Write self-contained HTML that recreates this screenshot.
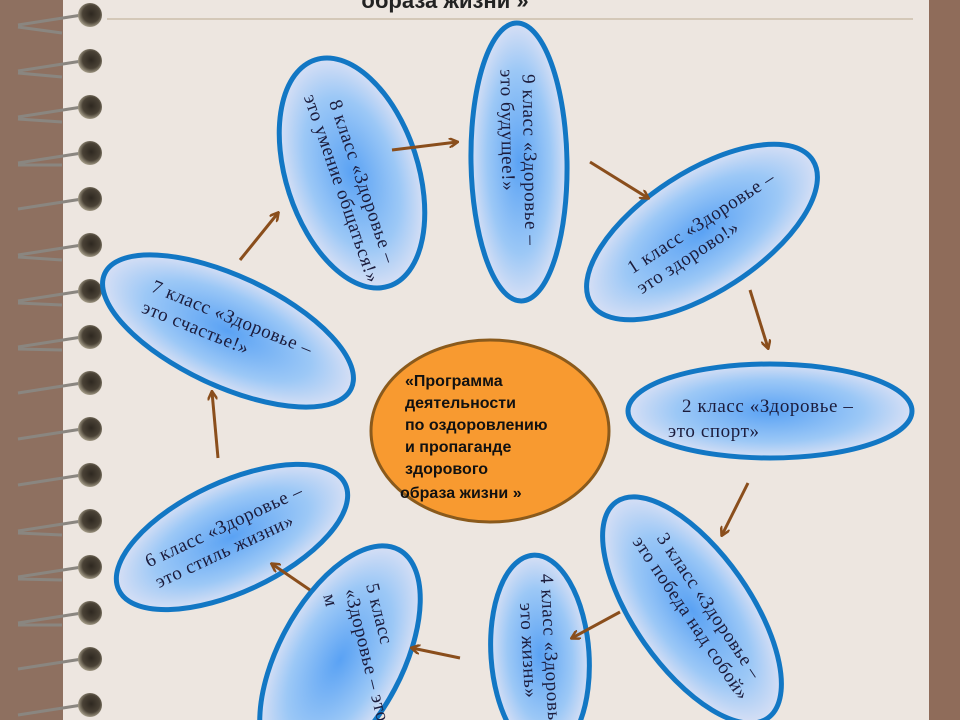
<!DOCTYPE html>
<html><head><meta charset="utf-8"><style>
html,body{margin:0;padding:0;width:960px;height:720px;overflow:hidden;background:#ede6e0}
svg{display:block}
.t{font-family:"Liberation Serif","DejaVu Serif",serif;font-size:19px;letter-spacing:0.6px;fill:#1c1c3c}
.c{font-family:"Liberation Sans","DejaVu Sans",sans-serif;font-size:16px;font-weight:bold;fill:#111}
</style></head><body>
<svg width="960" height="720" viewBox="0 0 960 720" xmlns="http://www.w3.org/2000/svg">
<defs>
<radialGradient id="g" cx="50%" cy="50%" r="55%">
<stop offset="0" stop-color="#5aa2f4"/>
<stop offset="0.6" stop-color="#9cc8f6"/>
<stop offset="1" stop-color="#e8e6f4"/>
</radialGradient>
<radialGradient id="b" cx="55%" cy="45%" r="60%">
<stop offset="0" stop-color="#2e2820"/>
<stop offset="0.6" stop-color="#4a4236"/>
<stop offset="1" stop-color="#b8b09a"/>
</radialGradient>
<marker id="a" markerWidth="10" markerHeight="10" refX="8" refY="5" orient="auto" markerUnits="userSpaceOnUse">
<path d="M0,0 L9,5 L0,10" fill="none" stroke="#8a4e1c" stroke-width="2.5"/>
</marker>
</defs>
<rect x="0" y="0" width="63" height="720" fill="#8e7060"/>
<rect x="929" y="0" width="31" height="720" fill="#8f6c5a"/>
<line x1="107" y1="19" x2="913" y2="19" stroke="#d4c8b8" stroke-width="2"/>
<g stroke="#8a8680" stroke-width="3" fill="none">
<path d="M18,25 L82,15 M18,27 L62,33"/><path d="M18,71 L82,61 M18,73 L62,77"/><path d="M18,117 L82,107 M18,119 L62,122"/><path d="M18,163 L82,153 M18,165 L62,165"/><path d="M18,209 L82,199"/><path d="M18,255 L82,245 M18,257 L62,260"/><path d="M18,301 L82,291 M18,303 L62,305"/><path d="M18,347 L82,337 M18,349 L62,350"/><path d="M18,393 L82,383"/><path d="M18,439 L82,429"/><path d="M18,485 L82,475"/><path d="M18,531 L82,521 M18,533 L62,535"/><path d="M18,577 L82,567 M18,579 L62,580"/><path d="M18,623 L82,613 M18,625 L62,625"/><path d="M18,669 L82,659"/><path d="M18,715 L82,705"/>
</g>
<g fill="url(#b)">
<circle cx="90" cy="15" r="12"/><circle cx="90" cy="61" r="12"/><circle cx="90" cy="107" r="12"/><circle cx="90" cy="153" r="12"/><circle cx="90" cy="199" r="12"/><circle cx="90" cy="245" r="12"/><circle cx="90" cy="291" r="12"/><circle cx="90" cy="337" r="12"/><circle cx="90" cy="383" r="12"/><circle cx="90" cy="429" r="12"/><circle cx="90" cy="475" r="12"/><circle cx="90" cy="521" r="12"/><circle cx="90" cy="567" r="12"/><circle cx="90" cy="613" r="12"/><circle cx="90" cy="659" r="12"/><circle cx="90" cy="705" r="12"/>
</g>
<text x="445" y="8" text-anchor="middle" style="font-family:'Liberation Sans',sans-serif;font-size:22px;font-weight:bold;fill:#222">образа жизни »</text>

<g stroke="#1277c4" stroke-width="5" fill="url(#g)">
<ellipse cx="519" cy="162" rx="48" ry="139" transform="rotate(-1 519 162)"/>
<ellipse cx="352" cy="173" rx="66" ry="119" transform="rotate(-18 352 173)"/>
<ellipse cx="702" cy="232" rx="132" ry="60" transform="rotate(-33 702 232)"/>
<ellipse cx="770" cy="411" rx="142" ry="47"/>
<ellipse cx="692" cy="610" rx="132" ry="58" transform="rotate(55 692 610)"/>
<ellipse cx="540" cy="655" rx="49" ry="100" transform="rotate(-4 540 655)"/>
<ellipse cx="340" cy="660" rx="62" ry="125" transform="rotate(28 340 660)"/>
<ellipse cx="232" cy="537" rx="125" ry="55" transform="rotate(-25 232 537)"/>
<ellipse cx="228" cy="331" rx="136" ry="55" transform="rotate(25 228 331)"/>
</g>

<ellipse cx="490" cy="431" rx="119" ry="91" fill="#f89a30" stroke="#8a5a1c" stroke-width="3"/>
<g class="c">
<text x="405" y="386">«Программа</text>
<text x="405" y="408">деятельности</text>
<text x="405" y="430">по оздоровлению</text>
<text x="405" y="452">и пропаганде</text>
<text x="405" y="474">здорового</text>
<text x="400" y="498">образа жизни »</text>
</g>

<g class="t">
<g transform="translate(519,160) rotate(89)"><text x="0" y="-5" text-anchor="middle">9 класс «Здоровье –</text><text x="-30" y="17" text-anchor="middle">это будущее!»</text></g>
<g transform="translate(352,185) rotate(71)"><text x="0" y="-5" text-anchor="middle">8 класс «Здоровье –</text><text x="0" y="17" text-anchor="middle">это умение  общаться!»</text></g>
<g transform="translate(702,235) rotate(-33)"><text x="6" y="-5" text-anchor="middle">1 класс  «Здоровье –</text><text x="-24" y="17" text-anchor="middle">это здорово!»</text></g>
<text x="682" y="412">2 класс «Здоровье –</text>
<text x="668" y="437">это спорт»</text>
<g transform="translate(700,612) rotate(56)"><text x="0" y="-5" text-anchor="middle">3 класс «Здоровье –</text><text x="0" y="17" text-anchor="middle">это победа над собой»</text></g>
<g transform="translate(540,660) rotate(87)"><text x="0" y="-5" text-anchor="middle">4 класс «Здоровье –</text><text x="-10" y="17" text-anchor="middle">это жизнь»</text></g>
<g transform="translate(355,665) rotate(76)"><text x="-75" y="-30">5 класс</text><text x="-75" y="-8">«Здоровье – это</text><text x="-75" y="14">м</text></g>
<g transform="translate(224,538) rotate(-25)"><text x="5" y="-5" text-anchor="middle">6 класс  «Здоровье –</text><text x="-5" y="18" text-anchor="middle">это стиль жизни»</text></g>
<g transform="translate(228,328) rotate(22)"><text x="0" y="-5" text-anchor="middle">7 класс «Здоровье –</text><text x="-30" y="18" text-anchor="middle">это счастье!»</text></g>
</g>

<g stroke="#8a4e1c" stroke-width="3" fill="none" marker-end="url(#a)">
<line x1="392" y1="150" x2="457" y2="142"/>
<line x1="590" y1="162" x2="648" y2="198"/>
<line x1="750" y1="290" x2="768" y2="348"/>
<line x1="748" y1="483" x2="722" y2="535"/>
<line x1="620" y1="612" x2="572" y2="638"/>
<line x1="460" y1="658" x2="412" y2="648"/>
<line x1="310" y1="590" x2="272" y2="564"/>
<line x1="218" y1="458" x2="212" y2="392"/>
<line x1="240" y1="260" x2="278" y2="213"/>
</g>
</svg>
</body></html>
